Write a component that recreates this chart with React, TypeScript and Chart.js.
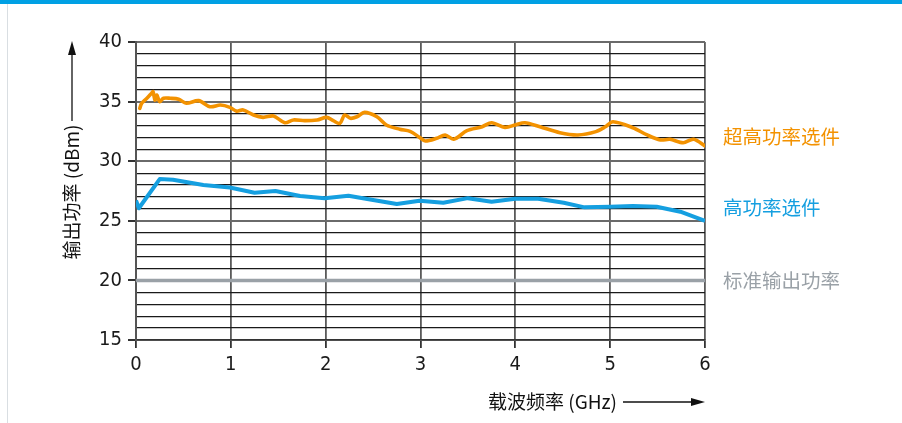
import React, { useEffect, useRef } from "react";
import { Chart, registerables } from "chart.js";

Chart.register(...registerables);

// Orange: 超高功率选件
const orangeX = [0.04, 0.06, 0.095, 0.13, 0.165, 0.18, 0.2, 0.22, 0.25, 0.29, 0.36, 0.45, 0.53, 0.66, 0.78, 0.89, 0.99, 1.06, 1.13, 1.24, 1.34, 1.45, 1.57, 1.66, 1.78, 1.91, 2.01, 2.08, 2.15, 2.2, 2.26, 2.33, 2.41, 2.54, 2.64, 2.78, 2.89, 2.99, 3.05, 3.17, 3.26, 3.35, 3.49, 3.65, 3.75, 3.89, 4.0, 4.1, 4.26, 4.47, 4.66, 4.85, 4.95, 5.03, 5.24, 5.39, 5.53, 5.63, 5.77, 5.88, 6.0];
const orangeY = [34.44, 34.86, 35.13, 35.41, 35.7, 35.83, 35.13, 35.55, 34.99, 35.28, 35.28, 35.2, 34.86, 35.08, 34.57, 34.71, 34.52, 34.2, 34.3, 33.88, 33.68, 33.79, 33.23, 33.46, 33.4, 33.46, 33.68, 33.4, 33.18, 33.88, 33.6, 33.73, 34.1, 33.73, 33.04, 32.68, 32.5, 32.0, 31.7, 31.92, 32.2, 31.84, 32.56, 32.89, 33.23, 32.84, 33.04, 33.23, 32.89, 32.39, 32.2, 32.48, 32.89, 33.31, 32.81, 32.2, 31.78, 31.84, 31.55, 31.84, 31.28];

// Blue: 高功率选件
const blueX = [0, 0.03, 0.25, 0.39, 0.71, 0.99, 1.25, 1.47, 1.73, 1.99, 2.24, 2.5, 2.75, 2.99, 3.24, 3.5, 3.75, 4.0, 4.24, 4.51, 4.73, 5.0, 5.24, 5.49, 5.74, 6.0];
const blueY = [26.7, 26.05, 28.5, 28.45, 28.0, 27.8, 27.36, 27.5, 27.08, 26.89, 27.1, 26.75, 26.41, 26.69, 26.52, 26.9, 26.6, 26.85, 26.85, 26.52, 26.13, 26.18, 26.24, 26.18, 25.76, 25.0];

// Gray: 标准输出功率
const grayX = [0, 6];
const grayY = [20, 20];

const seriesLabels = ["超高功率选件", "高功率选件", "标准输出功率"];
const xTitle = "载波频率 (GHz)";
const yTitle = "输出功率 (dBm)";

const ORANGE = "#f39200";
const BLUE = "#159fe0";
const GRAY = "#9aa1a7";
const NUM_FONT = "'Liberation Sans Narrow', 'DejaVu Sans Condensed', 'Noto Sans CJK SC', sans-serif";
const CJK_FONT = "'Liberation Sans Narrow', 'Noto Sans CJK SC', sans-serif";

const toPts = (xs: number[], ys: number[]) => xs.map((x, i) => ({ x, y: ys[i] }));

const decor = {
  id: "decor",
  beforeDraw(chart: any) {
    const ctx = chart.ctx;
    ctx.save();
    ctx.fillStyle = "#ffffff";
    ctx.fillRect(0, 0, chart.width, chart.height);
    ctx.fillStyle = "#00a0e4";
    ctx.fillRect(0, 0, chart.width, 4);
    ctx.strokeStyle = "#d9dee2";
    ctx.lineWidth = 1;
    ctx.beginPath();
    ctx.moveTo(7.5, 4);
    ctx.lineTo(7.5, chart.height);
    ctx.stroke();
    ctx.restore();
  },
  afterDraw(chart: any) {
    const ctx = chart.ctx;
    const xs = chart.scales.x;
    const ys = chart.scales.y;
    ctx.save();
    // right-side series labels
    ctx.font = `19.5px ${CJK_FONT}`;
    ctx.textAlign = "left";
    ctx.textBaseline = "middle";
    const lx = xs.right + 18;
    ctx.fillStyle = ORANGE;
    ctx.fillText(seriesLabels[0], lx, ys.getPixelForValue(32.2) + 2);
    ctx.fillStyle = BLUE;
    ctx.fillText(seriesLabels[1], lx, ys.getPixelForValue(26.15) + 1);
    ctx.fillStyle = GRAY;
    ctx.fillText(seriesLabels[2], lx, ys.getPixelForValue(20.05) + 1);

    ctx.fillStyle = "#111";
    ctx.strokeStyle = "#111";
    ctx.lineWidth = 1.3;
    // x title + arrow
    const ty = 402;
    ctx.font = `19px ${CJK_FONT}`;
    ctx.textAlign = "right";
    ctx.fillText(xTitle, 617, ty);
    ctx.beginPath();
    ctx.moveTo(623, ty);
    ctx.lineTo(692, ty);
    ctx.stroke();
    ctx.beginPath();
    ctx.moveTo(xs.right, ty);
    ctx.lineTo(xs.right - 14, ty - 4);
    ctx.lineTo(xs.right - 14, ty + 4);
    ctx.closePath();
    ctx.fill();

    // y title + arrow
    const tx = 72;
    ctx.save();
    ctx.translate(tx, 192);
    ctx.rotate(-Math.PI / 2);
    ctx.textAlign = "center";
    ctx.textBaseline = "middle";
    ctx.fillText(yTitle, 0, 0);
    ctx.restore();
    ctx.beginPath();
    ctx.moveTo(tx, 121);
    ctx.lineTo(tx, 52);
    ctx.stroke();
    ctx.beginPath();
    ctx.moveTo(tx, ys.top - 1);
    ctx.lineTo(tx - 4, ys.top + 13);
    ctx.lineTo(tx + 4, ys.top + 13);
    ctx.closePath();
    ctx.fill();
    ctx.restore();
  },
};

export default function App() {
  const ref = useRef<HTMLCanvasElement | null>(null);
  useEffect(() => {
    if (!ref.current) return;
    const chart = new Chart(ref.current, {
      type: "line",
      data: {
        datasets: [
          {
            label: seriesLabels[2],
            data: toPts(grayX, grayY),
            borderColor: GRAY,
            borderWidth: 3.5,
            pointRadius: 0,
            tension: 0,
          },
          {
            label: seriesLabels[1],
            data: toPts(blueX, blueY),
            borderColor: BLUE,
            borderWidth: 4,
            pointRadius: 0,
            tension: 0,
            borderJoinStyle: "round",
          },
          {
            label: seriesLabels[0],
            data: toPts(orangeX, orangeY),
            borderColor: ORANGE,
            borderWidth: 3.6,
            pointRadius: 0,
            tension: 0.3,
            borderJoinStyle: "round",
            borderCapStyle: "round",
          },
        ],
      },
      options: {
        responsive: false,
        animation: false,
        layout: { padding: { top: 42, right: 197, left: 0, bottom: 0 } },
        plugins: { legend: { display: false }, tooltip: { enabled: false } },
        scales: {
          x: {
            type: "linear",
            min: 0,
            max: 6,
            afterFit: (s: any) => {
              s.height = 83;
            },
            ticks: {
              stepSize: 1,
              color: "#1a1a1a",
              font: { family: NUM_FONT, size: 20 },
              padding: 5,
            },
            grid: {
              color: "#5a5a5a",
              lineWidth: 1.8,
              tickLength: 8,
              tickColor: "#333",
            },
            border: { display: true, color: "#333", width: 1.5 },
          },
          y: {
            min: 15,
            max: 40,
            afterFit: (s: any) => {
              s.width = 136;
            },
            ticks: {
              stepSize: 1,
              autoSkip: false,
              color: "#1a1a1a",
              font: { family: NUM_FONT, size: 20 },
              padding: 6,
              callback: (v: any) => (Number(v) % 5 === 0 ? String(v) : ""),
            },
            grid: {
              color: (c: any) => (c.tick && c.tick.value % 5 === 0 ? "#6a6a6a" : "#1a1a1a"),
              lineWidth: (c: any) => (c.tick && c.tick.value % 5 === 0 ? 2 : 1.2),
              tickLength: 8,
              tickColor: (c: any) => (c.tick && c.tick.value % 5 === 0 ? "#333" : "rgba(0,0,0,0)"),
            },
            border: { display: true, color: "#555", width: 2 },
          },
        },
      },
      plugins: [decor],
    } as any);
    return () => chart.destroy();
  }, []);
  return (
    <div style={{ position: "absolute", left: 0, top: 0, width: 902, height: 423 }}>
      <canvas ref={ref} width={902} height={423} />
    </div>
  );
}
